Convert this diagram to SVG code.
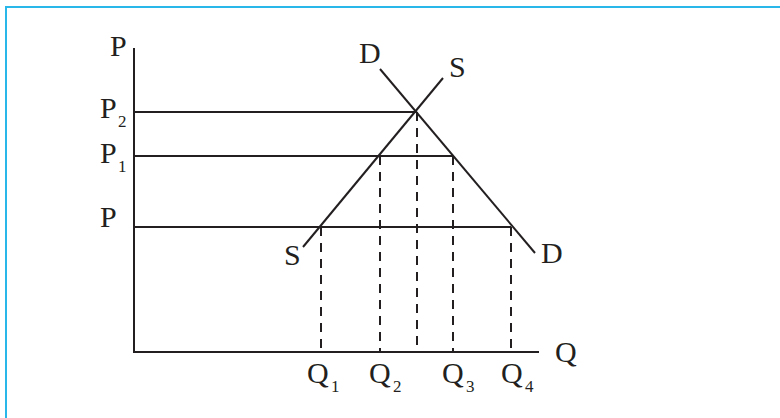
<svg xmlns="http://www.w3.org/2000/svg" width="780" height="418" viewBox="0 0 780 418">
<style>
.ln{stroke:#231f20;stroke-width:2;fill:none}
.ds{stroke:#231f20;stroke-width:2;fill:none;stroke-dasharray:9 7}
.t{font-family:"Liberation Serif","Times New Roman",serif;font-size:30px;fill:#231f20}
.s{font-family:"Liberation Serif","Times New Roman",serif;font-size:17px;fill:#231f20}
</style>
<rect width="780" height="418" fill="#fff"/>
<path d="M6,418 V7 H780" stroke="#29b6e8" stroke-width="2" fill="none"/>
<g id="connectors">
<path class="ln" d="M134,48 V352 H539"/>
<path class="ln" d="M134,112 H416"/>
<path class="ln" d="M134,156 H453"/>
<path class="ln" d="M134,227 H511"/>
<path class="ln" d="M303,247 L443,78"/>
<path class="ln" d="M380,69 L535,253"/>
<path class="ds" d="M321,227 V352"/>
<path class="ds" d="M380,156 V352"/>
<path class="ds" d="M417,112 V352"/>
<path class="ds" d="M453,156 V352"/>
<path class="ds" d="M511,227 V352"/>
</g>
<g id="axis-labels">
<text class="t" x="110" y="56">P</text>
<text class="t" x="555" y="362">Q</text>
</g>
<g id="price-labels">
<text class="t" x="100" y="118">P</text><text class="s" x="118" y="127">2</text>
<text class="t" x="100" y="163">P</text><text class="s" x="118" y="172">1</text>
<text class="t" x="100" y="227">P</text>
</g>
<g id="curve-labels">
<text class="t" x="359" y="63">D</text>
<text class="t" x="449" y="77">S</text>
<text class="t" x="284" y="265">S</text>
<text class="t" x="541" y="263">D</text>
</g>
<g id="quantity-labels">
<text class="t" x="307" y="383">Q</text><text class="s" x="331" y="392">1</text>
<text class="t" x="369" y="383">Q</text><text class="s" x="393" y="392">2</text>
<text class="t" x="442" y="383">Q</text><text class="s" x="466" y="392">3</text>
<text class="t" x="501" y="383">Q</text><text class="s" x="525" y="392">4</text>
</g>
</svg>
